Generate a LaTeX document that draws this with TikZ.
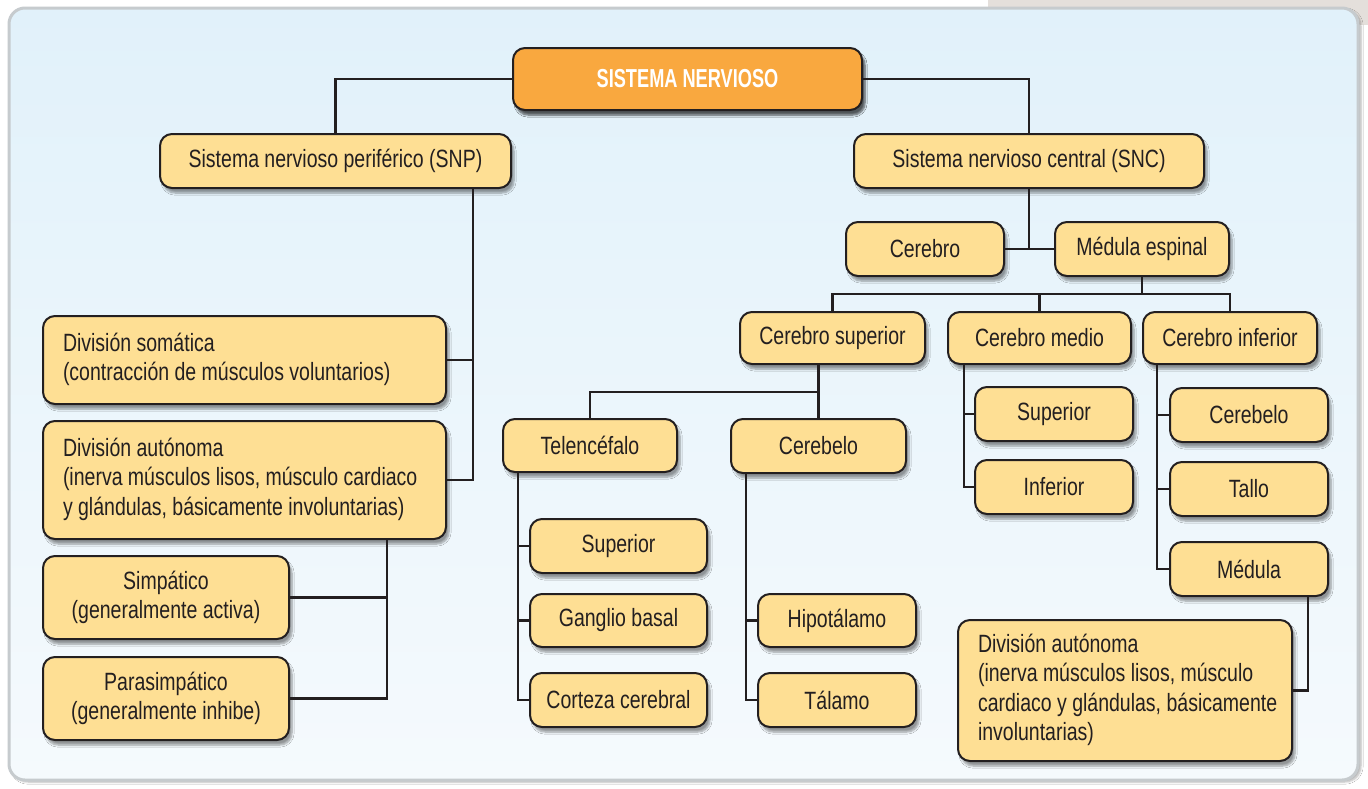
\documentclass[tikz,border=0pt]{standalone}
\usepackage{fontspec}
\setmainfont{Liberation Sans}[FakeStretch=0.78]
\newfontfamily\rootfont{Liberation Sans}[FakeStretch=0.7]
\usetikzlibrary{shadows.blur}
\definecolor{boxfill}{HTML}{FEDF94}
\definecolor{rootfill}{HTML}{F9A83F}
\definecolor{ink}{HTML}{231F20}
\definecolor{paneltop}{HTML}{E1F1FA}
\definecolor{panelbot}{HTML}{F5FAFD}
\definecolor{panelborder}{HTML}{C6CBCE}
\definecolor{stripgray}{HTML}{E4DFDB}
\tikzset{
  box/.style={draw=ink, line width=2pt, fill=boxfill, rounded corners=12pt,
    inner sep=0pt, text=ink, font=\fontsize{25}{29.5}\selectfont, align=center,
    blur shadow={shadow xshift=3pt, shadow yshift=-5pt, shadow blur steps=6, shadow opacity=40}},
  rootbox/.style={box, fill=rootfill, text=white, font=\rootfont\fontsize{26}{30}\selectfont\bfseries},
  conn/.style={draw=ink, line width=2.5pt},
  panel/.style={draw=panelborder, line width=3pt, rounded corners=16pt,
    top color=paneltop, bottom color=panelbot,
    blur shadow={shadow xshift=3pt, shadow yshift=-2pt, shadow blur steps=5, shadow opacity=30}}
}
\newcommand\mkbox[6][]{%
  \pgfmathsetmacro\bw{#4-#2}\pgfmathsetmacro\bh{#5-#3}%
  \pgfmathsetmacro\bcx{(#2+#4)/2}\pgfmathsetmacro\bcy{-(#3+#5)/2}%
  \node[box,#1,minimum width=\bw pt,minimum height=\bh pt] (#6) at (\bcx,\bcy)}
\newcommand\lefttext[2]{\makebox[#1][l]{\begin{tabular}{@{}l@{}}#2\end{tabular}}}
\begin{document}
\begin{tikzpicture}[x=1pt,y=1pt]
\useasboundingbox (0,0) rectangle (1368,-788);
\fill[white] (0,0) rectangle (1368,-788);
\fill[stripgray] (988,0) rectangle (1368,-25);
\path[panel] (9,-8) rectangle (1358,-780);

% nodes
\mkbox[rootbox]{513}{48}{862}{110}{root} {SISTEMA NERVIOSO};
\mkbox{160}{134}{511}{188}{snp} {Sistema nervioso periférico (SNP)};
\mkbox{854}{134}{1204}{188}{snc} {Sistema nervioso central (SNC)};
\mkbox{43}{316}{446}{404}{soma} {\lefttext{363pt}{División somática\\(contracción de músculos voluntarios)}};
\mkbox{43}{421}{446}{539}{auto} {\lefttext{363pt}{División autónoma\\(inerva músculos lisos, músculo cardiaco\\y glándulas, básicamente involuntarias)}};
\mkbox{43}{556}{289}{639}{simp} {Simpático\\(generalmente activa)};
\mkbox{43}{657}{289}{740}{para} {Parasimpático\\(generalmente inhibe)};
\mkbox{846}{222}{1004}{276}{cer} {Cerebro};
\mkbox{1055}{222}{1229}{276}{med} {Médula espinal};
\mkbox{740}{312}{925}{364}{csup} {Cerebro superior};
\mkbox{948}{312}{1131}{364}{cmed} {Cerebro medio};
\mkbox{1143}{312}{1317}{364}{cinf} {Cerebro inferior};
\mkbox{503}{419}{677}{472}{tel} {Telencéfalo};
\mkbox{731}{419}{906}{473}{cbl} {Cerebelo};
\mkbox{530}{519}{707}{573}{sup1} {Superior};
\mkbox{530}{594}{707}{647}{gang} {Ganglio basal};
\mkbox{530}{673}{707}{727}{cort} {Corteza cerebral};
\mkbox{758}{594}{916}{647}{hipo} {Hipotálamo};
\mkbox{758}{673}{916}{727}{tal} {Tálamo};
\mkbox{975}{387}{1133}{441}{sup2} {Superior};
\mkbox{975}{460}{1133}{514}{inf2} {Inferior};
\mkbox{1170}{388}{1328}{442}{cbl2} {Cerebelo};
\mkbox{1170}{462}{1328}{516}{tallo} {Tallo};
\mkbox{1170}{542}{1328}{596}{medu} {Médula};
\mkbox{958}{620}{1292}{761}{auto2} {\lefttext{294pt}{División autónoma\\(inerva músculos lisos, músculo\\cardiaco y glándulas, básicamente\\involuntarias)}};

% helper coordinates
\coordinate (snpx) at (473,0);
\coordinate (autx) at (387,0);
\coordinate (bar1) at (0,-294);
\coordinate (bar2) at (0,-392);
\coordinate (telx) at (518,0);
\coordinate (cbx) at (746,0);
\coordinate (cmx) at (964,0);
\coordinate (cix) at (1157,0);
\coordinate (mdx) at (1308,0);

% connectors
\draw[conn] (root.west) -| (snp.north);
\draw[conn] (root.east) -| (snc.north);
\draw[conn] (snp.south -| snpx) |- (auto.east);
\draw[conn] (soma.east) -- (soma.east -| snpx);
\draw[conn] (auto.south -| autx) |- (para.east);
\draw[conn] (simp.east) -- (simp.east -| autx);
\draw[conn] (snc.south) -- (snc.south |- cer.east);
\draw[conn] (cer.east) -- (med.west);
\draw[conn] (med.south) -- (med.south |- bar1);
\draw[conn] (csup.north) |- (bar1 -| cinf.north) -- (cinf.north);
\draw[conn] (cmed.north) -- (cmed.north |- bar1);
\draw[conn] (csup.south -| cbl.north) -- (cbl.north);
\draw[conn] (tel.north) |- (bar2 -| cbl.north);
\draw[conn] (tel.south -| telx) |- (cort.west);
\draw[conn] (sup1.west) -- (sup1.west -| telx);
\draw[conn] (gang.west) -- (gang.west -| telx);
\draw[conn] (cbl.south -| cbx) |- (tal.west);
\draw[conn] (hipo.west) -- (hipo.west -| cbx);
\draw[conn] (cmed.south -| cmx) |- (inf2.west);
\draw[conn] (sup2.west) -- (sup2.west -| cmx);
\draw[conn] (cinf.south -| cix) |- (medu.west);
\draw[conn] (cbl2.west) -- (cbl2.west -| cix);
\draw[conn] (tallo.west) -- (tallo.west -| cix);
\draw[conn] (medu.south -| mdx) |- (auto2.east);
\end{tikzpicture}
\end{document}
